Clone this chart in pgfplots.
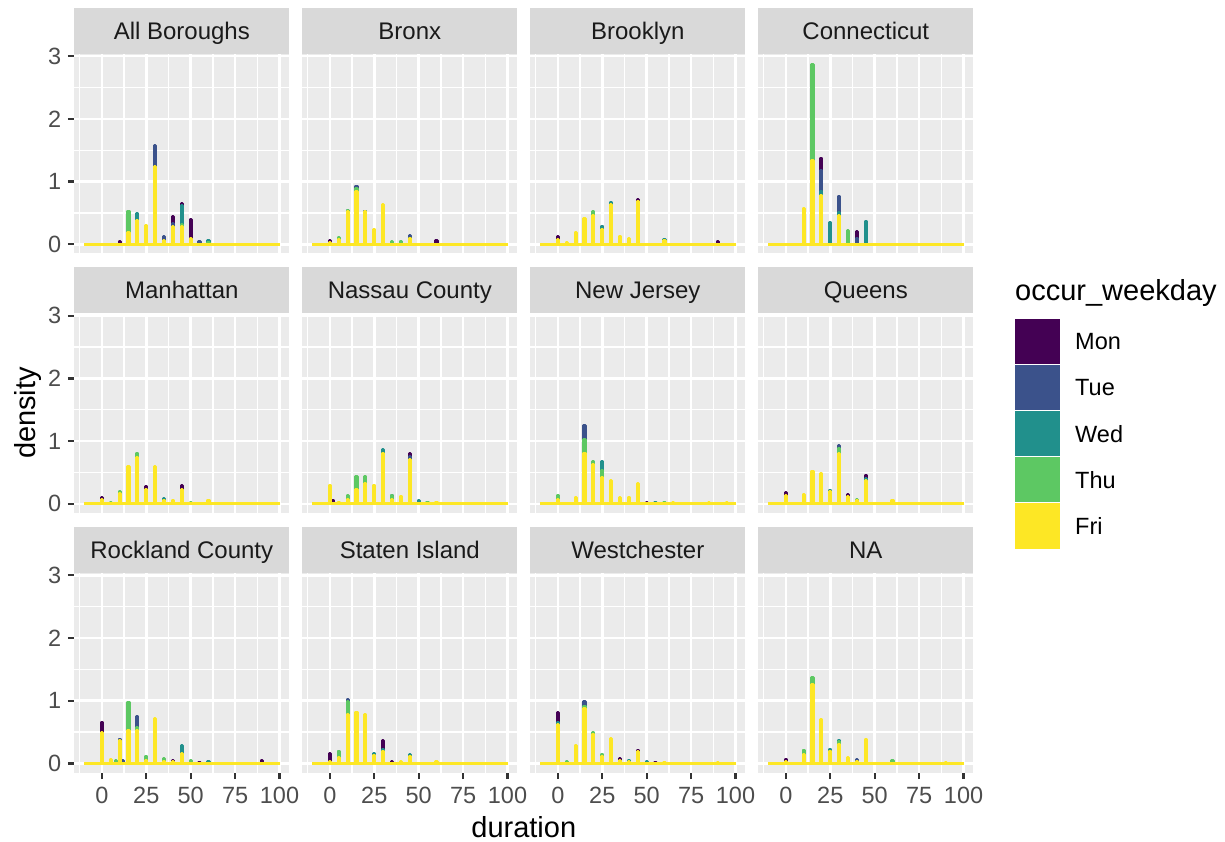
\documentclass[border=0pt]{standalone}
\usepackage{fontspec}
\setmainfont{Liberation Sans}
\usepackage{pgfplots}
\pgfplotsset{compat=1.18}

\definecolor{panelbg}{HTML}{EBEBEB}
\definecolor{stripbg}{HTML}{D9D9D9}
\definecolor{striptext}{HTML}{1A1A1A}
\definecolor{ticktext}{HTML}{4D4D4D}
\definecolor{tickline}{HTML}{333333}
\definecolor{cMon}{HTML}{440154}
\definecolor{cTue}{HTML}{3B528B}
\definecolor{cWed}{HTML}{21908C}
\definecolor{cThu}{HTML}{5DC863}
\definecolor{cFri}{HTML}{FDE725}

\newcommand\tickfont{\fontsize{23.5}{23.5}\selectfont}
\newcommand\stripfont{\fontsize{24}{24}\selectfont}
\newcommand\titlefont{\fontsize{29}{29}\selectfont}
% facet label, vertically centred on its capitals
\newcommand\strip[1]{\smash{\raisebox{-8.6pt}{#1}}}

\pgfplotsset{
  /pgf/number format/assume math mode=true,
  facet/.style={
    anchor=south west, scale only axis, width=215pt, height=199.3pt,
    xmin=-15.5, xmax=105.5, ymin=-0.1445, ymax=3.035,
    axis background/.style={fill=panelbg},
    axis line style={draw=none},
    xtick={0,25,50,75,100}, ytick={0,1,2,3},
    minor xtick={-12.5,12.5,37.5,62.5,87.5},
    minor ytick={0.5,1.5,2.5},
    grid=both,
    major grid style={white, line width=2.6pt},
    minor grid style={white, line width=1.3pt},
    tick align=outside, major tick length=6.5pt, minor tick length=0pt,
    xtick pos=bottom, ytick pos=left,
    tick style={line width=2.2pt, color=tickline},
    xmajorticks=false, ymajorticks=false,
    xticklabel={\pgfmathprintnumber{\tick}},
    yticklabel={\pgfmathprintnumber{\tick}},
    every tick label/.append style={font=\tickfont, text=ticktext},
    yticklabel style={xshift=-3pt},
    xticklabel style={yshift=-5pt},
    every axis title shift=0pt,
    title style={at={(0.5,1)}, anchor=south, fill=stripbg,
      text=striptext, minimum width=215pt, minimum height=46pt,
      inner sep=0pt, font=\stripfont},
  },
  leftcol/.style={ymajorticks=true},
  bottomrow/.style={xmajorticks=true},
  base/.style={line width=3pt, no marks, sharp plot},
  spike/.style={ybar, bar width=1.4pt, bar shift=0pt, line width=2.8pt, line join=round},
}

% one weekday: baseline over the duration range, then its density peaks
\newcommand\dens[2]{%
  \addplot[base, draw=#1] coordinates {(-10,0) (100,0)};
  \addplot[spike, draw=#1, fill=#1] coordinates {#2};
}

\begin{document}
\begin{tikzpicture}
\path[use as bounding box] (0pt,0pt) rectangle (1225pt,841pt);

% ---------- row 1 ----------
\begin{axis}[facet, leftcol, at={(74.3pt,587.7pt)}, title={\strip{All Boroughs}}]
\dens{cMon}{(10,0.05) (15,0.35) (20,0.35) (25,0.2) (30,1.1) (35,0.05) (40,0.44) (45,0.65) (50,0.39)}
\dens{cTue}{(15,0.3) (20,0.4) (25,0.25) (30,1.57) (35,0.12) (40,0.33) (45,0.5) (50,0.05) (55,0.05)}
\dens{cWed}{(15,0.35) (20,0.49) (25,0.28) (30,1.1) (40,0.2) (45,0.62) (60,0.06)}
\dens{cThu}{(15,0.53) (20,0.35) (25,0.25) (30,1.0) (40,0.25) (45,0.31) (60,0.03)}
\dens{cFri}{(15,0.19) (20,0.375) (25,0.30) (30,1.24) (35,0.06) (40,0.28) (45,0.28) (50,0.09)}
\end{axis}

\begin{axis}[facet, at={(302.3pt,587.7pt)}, title={\strip{Bronx}}]
\dens{cMon}{(0,0.06) (10,0.4) (15,0.7) (20,0.45) (30,0.5) (60,0.06)}
\dens{cTue}{(5,0.05) (10,0.45) (15,0.93) (20,0.53) (25,0.2) (30,0.55) (45,0.14)}
\dens{cWed}{(10,0.54) (15,0.8) (20,0.53) (25,0.2) (30,0.6) (40,0.04) (45,0.1)}
\dens{cThu}{(5,0.11) (10,0.54) (15,0.885) (20,0.5) (25,0.22) (30,0.6) (35,0.04) (40,0.04)}
\dens{cFri}{(0,0.03) (5,0.07) (10,0.52) (15,0.84) (20,0.52) (25,0.24) (30,0.64) (45,0.10)}
\end{axis}

\begin{axis}[facet, at={(530.3pt,587.7pt)}, title={\strip{Brooklyn}}]
\dens{cMon}{(0,0.12) (15,0.3) (20,0.4) (30,0.5) (45,0.71) (90,0.045)}
\dens{cTue}{(0,0.05) (15,0.35) (20,0.45) (25,0.28) (30,0.6) (45,0.6) (60,0.04)}
\dens{cWed}{(15,0.38) (20,0.45) (25,0.28) (30,0.675) (45,0.65) (60,0.075)}
\dens{cThu}{(10,0.15) (15,0.38) (20,0.52) (25,0.2) (30,0.6) (45,0.6) (60,0.05)}
\dens{cFri}{(0,0.07) (5,0.03) (10,0.19) (15,0.41) (20,0.46) (25,0.23) (30,0.64) (35,0.13) (40,0.09) (45,0.69) (60,0.06)}
\end{axis}

\begin{axis}[facet, at={(758.3pt,587.7pt)}, title={\strip{Connecticut}}]
\dens{cMon}{(20,1.375) (40,0.20)}
\dens{cTue}{(20,1.17) (30,0.77) (40,0.10)}
\dens{cWed}{(20,0.85) (25,0.35) (30,0.50) (45,0.37)}
\dens{cThu}{(15,2.87) (35,0.22)}
\dens{cFri}{(10,0.57) (15,1.33) (20,0.78) (30,0.46)}
\end{axis}

% ---------- row 2 ----------
\begin{axis}[facet, leftcol, at={(74.3pt,328.1pt)}, title={\strip{Manhattan}}]
\dens{cMon}{(0,0.10) (15,0.4) (20,0.6) (25,0.28) (30,0.4) (45,0.29)}
\dens{cTue}{(0,0.05) (10,0.15) (15,0.5) (20,0.7) (25,0.2) (30,0.5) (45,0.2) (60,0.04)}
\dens{cWed}{(10,0.15) (15,0.55) (20,0.7) (25,0.2) (30,0.55) (35,0.08) (45,0.2)}
\dens{cThu}{(5,0.02) (10,0.20) (15,0.55) (20,0.81) (25,0.2) (30,0.5) (35,0.05) (45,0.2) (50,0.02)}
\dens{cFri}{(0,0.07) (10,0.17) (15,0.60) (20,0.745) (25,0.235) (30,0.60) (35,0.06) (40,0.06) (45,0.23) (60,0.06) (80,0.01) (90,0.015)}
\end{axis}

\begin{axis}[facet, at={(302.3pt,328.1pt)}, title={\strip{Nassau County}}]
\dens{cMon}{(2,0.05) (30,0.6) (45,0.80)}
\dens{cTue}{(15,0.2) (20,0.25) (30,0.7) (45,0.76)}
\dens{cWed}{(10,0.1) (15,0.3) (20,0.3) (30,0.865) (35,0.14) (45,0.6) (50,0.05)}
\dens{cThu}{(10,0.13) (15,0.43) (20,0.43) (25,0.25) (30,0.7) (35,0.13) (45,0.6) (55,0.03)}
\dens{cFri}{(0,0.30) (5,0.03) (10,0.065) (15,0.23) (20,0.325) (25,0.30) (30,0.81) (35,0.065) (40,0.125) (45,0.71) (60,0.03)}
\end{axis}

\begin{axis}[facet, at={(530.3pt,328.1pt)}, title={\strip{New Jersey}}]
\dens{cMon}{(15,0.8) (20,0.5) (25,0.4) (50,0.02)}
\dens{cTue}{(15,1.245) (20,0.6) (25,0.5) (30,0.3)}
\dens{cWed}{(15,0.9) (20,0.6) (25,0.675) (30,0.3) (55,0.02)}
\dens{cThu}{(0,0.14) (15,1.025) (20,0.68) (25,0.535) (30,0.35) (60,0.02)}
\dens{cFri}{(0,0.065) (10,0.10) (15,0.81) (20,0.63) (25,0.42) (30,0.37) (35,0.095) (40,0.11) (45,0.325) (65,0.02) (85,0.02) (95,0.02)}
\end{axis}

\begin{axis}[facet, at={(758.3pt,328.1pt)}, title={\strip{Queens}}]
\dens{cMon}{(0,0.18) (30,0.7) (35,0.155) (45,0.46)}
\dens{cTue}{(15,0.4) (20,0.4) (30,0.93) (45,0.35)}
\dens{cWed}{(15,0.45) (20,0.45) (25,0.22) (30,0.85) (45,0.40)}
\dens{cThu}{(15,0.5) (20,0.45) (25,0.18) (30,0.89) (40,0.075) (45,0.35)}
\dens{cFri}{(0,0.13) (10,0.15) (15,0.525) (20,0.49) (25,0.20) (30,0.80) (35,0.115) (40,0.06) (45,0.37) (60,0.06) (90,0.015)}
\end{axis}

% ---------- row 3 ----------
\begin{axis}[facet, leftcol, bottomrow, at={(74.3pt,68.5pt)}, title={\strip{Rockland County}}]
\dens{cMon}{(0,0.66) (10,0.3) (15,0.4) (20,0.5) (30,0.5) (40,0.05) (55,0.02) (90,0.05)}
\dens{cTue}{(0,0.4) (10,0.39) (12,0.05) (15,0.5) (20,0.755) (30,0.6)}
\dens{cWed}{(5,0.045) (15,0.5) (20,0.5) (30,0.6) (45,0.29) (60,0.035)}
\dens{cThu}{(5,0.045) (8,0.05) (15,0.98) (20,0.57) (25,0.12) (35,0.075) (50,0.045)}
\dens{cFri}{(0,0.50) (5,0.06) (10,0.36) (15,0.53) (20,0.53) (25,0.05) (30,0.715) (35,0.04) (40,0.03) (45,0.165)}
\end{axis}

\begin{axis}[facet, bottomrow, at={(302.3pt,68.5pt)}, title={\strip{Staten Island}}]
\dens{cMon}{(0,0.155) (10,0.6) (15,0.6) (20,0.6) (30,0.37) (35,0.035)}
\dens{cTue}{(10,1.02) (15,0.7) (20,0.7) (30,0.2)}
\dens{cWed}{(10,0.8) (15,0.7) (20,0.7) (25,0.155) (30,0.23) (45,0.145)}
\dens{cThu}{(5,0.20) (10,0.99) (15,0.7) (20,0.7) (25,0.1) (30,0.2)}
\dens{cFri}{(0,0.035) (5,0.10) (10,0.78) (15,0.82) (20,0.78) (25,0.135) (30,0.20) (40,0.025) (45,0.12) (60,0.025)}
\end{axis}

\begin{axis}[facet, bottomrow, at={(530.3pt,68.5pt)}, title={\strip{Westchester}}]
\dens{cMon}{(0,0.81) (15,0.8) (20,0.4) (35,0.075) (45,0.215) (55,0.015)}
\dens{cTue}{(0,0.5) (15,0.99) (20,0.45) (30,0.3)}
\dens{cWed}{(0,0.66) (15,0.85) (20,0.45) (30,0.35) (40,0.055) (50,0.035)}
\dens{cThu}{(0,0.5) (5,0.03) (15,0.915) (20,0.50) (25,0.15) (30,0.35)}
\dens{cFri}{(0,0.625) (10,0.29) (15,0.88) (20,0.47) (25,0.11) (30,0.40) (35,0.045) (40,0.035) (45,0.19) (60,0.02) (90,0.01)}
\end{axis}

\begin{axis}[facet, bottomrow, at={(758.3pt,68.5pt)}, title={\strip{NA}}]
\dens{cMon}{(0,0.07) (15,1.0) (20,0.5) (30,0.3)}
\dens{cTue}{(15,1.1) (20,0.6) (30,0.3) (40,0.06)}
\dens{cWed}{(15,1.2) (20,0.6) (25,0.23) (30,0.375)}
\dens{cThu}{(10,0.215) (15,1.37) (20,0.6) (25,0.2) (30,0.345) (60,0.05)}
\dens{cFri}{(0,0.035) (10,0.145) (15,1.265) (20,0.70) (25,0.20) (30,0.31) (35,0.09) (40,0.04) (45,0.39) (90,0.01)}
\end{axis}

% axis titles
\node[font=\titlefont, rotate=90] at (28pt,428pt) {density};
\node[font=\titlefont] at (523.8pt,14pt) {duration};

% legend
\node[font=\titlefont, anchor=west, inner sep=0pt] at (1015pt,548pt) {occur\_weekday};
\fill[cMon] (1015pt,476pt) rectangle (1060pt,522pt);
\fill[cTue] (1015pt,430pt) rectangle (1060pt,476pt);
\fill[cWed] (1015pt,384pt) rectangle (1060pt,430pt);
\fill[cThu] (1015pt,338pt) rectangle (1060pt,384pt);
\fill[cFri] (1015pt,292pt) rectangle (1060pt,338pt);
\foreach \yy in {338,384,430,476} {\draw[white, line width=1pt] (1015pt,\yy pt) -- (1060pt,\yy pt);}
\node[font=\tickfont, anchor=west, inner sep=0pt] at (1075pt,499pt) {Mon};
\node[font=\tickfont, anchor=west, inner sep=0pt] at (1075pt,453pt) {Tue};
\node[font=\tickfont, anchor=west, inner sep=0pt] at (1075pt,407pt) {Wed};
\node[font=\tickfont, anchor=west, inner sep=0pt] at (1075pt,361pt) {Thu};
\node[font=\tickfont, anchor=west, inner sep=0pt] at (1075pt,315pt) {Fri};
\end{tikzpicture}
\end{document}
